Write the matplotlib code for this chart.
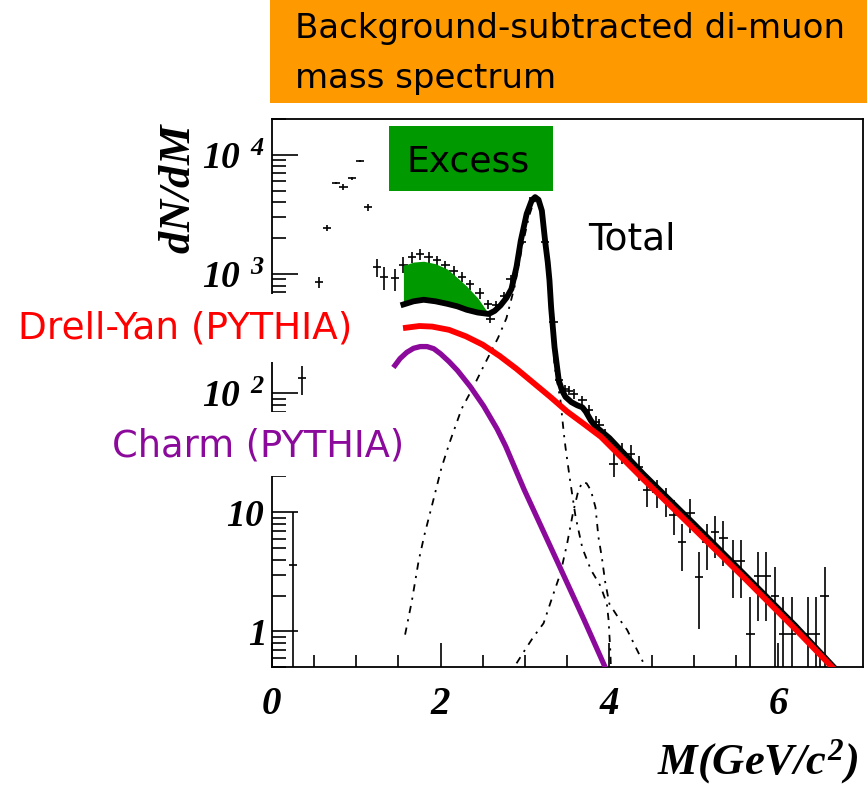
import numpy as np
import matplotlib
matplotlib.use('Agg')
import matplotlib.pyplot as plt
from matplotlib.patches import Rectangle
from matplotlib.ticker import FixedLocator, LogLocator, NullFormatter

# di-muon data: bin centre (GeV/c^2), dN/dM, error
data_m = [0.25, 0.356, 0.56, 0.652, 0.763, 0.849, 0.949, 1.047, 1.139, 1.246, 1.332, 1.463,
          1.56, 1.66, 1.759, 1.858, 1.957, 2.056, 2.154, 2.254, 2.352, 2.463, 2.56, 2.59,
          2.66, 2.75, 2.83, 2.966, 3.10, 3.24, 3.34, 3.40, 3.47, 3.52, 3.58, 3.68, 3.76,
          3.84, 3.88, 3.95, 4.05, 4.15, 4.25, 4.35, 4.45, 4.56, 4.67, 4.76, 4.86, 4.96,
          5.06, 5.15, 5.25, 5.35, 5.46, 5.56, 5.67, 5.76, 5.86, 5.96, 6.06, 6.16, 6.35,
          6.45, 6.55]
data_y = [3.6, 133, 853, 2450, 5770, 5340, 6360, 8940, 3630, 1140, 940, 917,
          1200, 1380, 1460, 1380, 1300, 1180, 1070, 940, 817, 690, 560, 421,
          545, 660, 912, 1850, 4320, 1850, 394, 128, 108, 105, 99, 87, 72,
          57, 54, 44, 25.6, 32, 31, 24, 15.3, 14.8, 12.6, 9.5, 5.6, 9.8,
          2.84, 5.65, 6.77, 6.03, 3.89, 3.89, 0.96, 2.93, 2.93, 1.98, 0.96, 0.96, 0.96,
          0.96, 1.98]
data_err = [6.4, 36, 85, 150, 100, 300, 150, 200, 250, 200, 200, 190,
            180, 150, 150, 140, 130, 110, 100, 90, 80, 70, 50, 35,
            45, 50, 60, 100, 150, 100, 30, 10, 9, 9, 9, 8, 8,
            7, 7, 6.5, 6, 6.5, 6, 5.7, 4.3, 4, 3.5, 3.1, 2.4, 3.1,
            1.8, 2.4, 2.6, 2.5, 2.0, 2.0, 1.0, 1.7, 1.7, 1.5, 1.0, 1.0, 1.0,
            1.0, 1.5]
bin_half = 0.05

# total fit
total_m = [1.56, 1.68, 1.80, 1.94, 2.08, 2.20, 2.31, 2.44, 2.57, 2.64, 2.71, 2.78, 2.84,
           2.90, 2.95, 3.02, 3.08, 3.12, 3.16, 3.20, 3.24, 3.27, 3.29, 3.31, 3.35, 3.40,
           3.44, 3.48, 3.55, 3.62, 3.68, 3.72, 3.78, 3.83, 4.0, 4.4, 5.0, 5.6, 6.2, 6.66]
total_y = [555, 590, 608, 590, 562, 535, 501, 475, 462, 490, 545, 630, 750,
           1150, 1900, 3200, 4150, 4420, 4200, 3400, 1850, 1250, 884, 520, 243, 128,
           105, 93, 84, 79, 76, 70, 59, 53, 42, 21, 8.0, 3.0, 1.12, 0.5]

# excess above the total, same mass points as the start of the total curve
excess_m = [1.56, 1.68, 1.80, 1.94, 2.08, 2.20, 2.31, 2.44, 2.57]
excess_top = [1180, 1260, 1280, 1220, 1100, 930, 790, 630, 462]

# Drell-Yan (PYTHIA)
dy_m = [1.59, 1.75, 1.9, 2.1, 2.3, 2.5, 2.7, 2.9, 3.1, 3.3, 3.5, 3.7, 3.9, 4.4, 5.0, 5.6, 6.2, 6.64]
dy_y = [354, 366, 362, 340, 300, 255, 205, 160, 122, 93, 70, 55, 43, 19, 7.3, 2.8, 1.05, 0.5]

# open charm (PYTHIA)
charm_m = [1.46, 1.52, 1.60, 1.68, 1.76, 1.84, 1.92, 2.00, 2.10, 2.20, 2.35, 2.51, 2.67,
           2.77, 2.99, 3.38, 3.70, 3.95]
charm_y = [171, 195, 220, 238, 246, 246, 236, 214, 184, 155, 114, 78, 50,
           36, 15.5, 3.9, 1.25, 0.5]

# J/psi and psi' shapes
jpsi_m = [1.58, 1.66, 1.74, 1.81, 1.91, 2.01, 2.11, 2.25, 2.40, 2.52, 2.68, 2.78, 2.88, 2.97,
          3.05, 3.10, 3.14, 3.18, 3.22, 3.26, 3.30, 3.35, 3.42, 3.46, 3.48, 3.53, 3.60, 3.68,
          3.78, 3.895, 3.97, 3.99, 4.01, 4.02]
jpsi_y = [0.94, 1.8, 3.9, 6.5, 12.3, 23.5, 39, 74, 117, 174, 290, 425, 800, 1750,
          3100, 3950, 4250, 3900, 2700, 1500, 700, 170, 87, 46, 35, 19.4, 9.1, 5.0,
          3.3, 2.4, 1.7, 1.25, 0.7, 0.45]
psi2_m = [2.90, 3.00, 3.10, 3.22, 3.34, 3.42, 3.50, 3.57, 3.63, 3.68, 3.73, 3.78, 3.835,
          3.87, 3.91, 3.95, 4.0, 4.11, 4.21, 4.31, 4.40]
psi2_y = [0.54, 0.70, 0.90, 1.17, 2.1, 3.07, 5.5, 10, 15, 18, 17.5, 15.3, 11,
          6.2, 4.2, 2.6, 1.7, 1.29, 1.03, 0.74, 0.55]

x_major = [0, 2, 4, 6]
y_major = [1, 10, 100, 1000, 10000]
y_labels = [r'$1$', r'$10$', r'$10^{\ \,2}$', r'$10^{\ \,3}$', r'$10^{\ \,4}$']

plt.rcParams['mathtext.fontset'] = 'custom'
plt.rcParams['mathtext.rm'] = 'Liberation Serif:bold:italic'
plt.rcParams['mathtext.it'] = 'Liberation Serif:bold:italic'
plt.rcParams['mathtext.bf'] = 'Liberation Serif:bold:italic'
plt.rcParams['font.family'] = 'DejaVu Sans'

W, H = 867, 786
fig = plt.figure(figsize=(W / 100, H / 100), dpi=100)


def fx(px):
    return px / W


def fy(py):
    return 1 - py / H


ax = fig.add_axes([fx(271.7), fy(667.3), (862.7 - 271.7) / W, (667.3 - 119) / H])
ax.set_yscale('log')
ax.set_xlim(0, 7)
ax.set_ylim(0.5, 2e4)

ax.errorbar(data_m, data_y, yerr=data_err, xerr=bin_half, fmt='none',
            ecolor='black', elinewidth=1.2, capsize=0, zorder=2)
ax.fill_between(excess_m, total_y[:len(excess_m)], excess_top, color='#009900', lw=0, zorder=3)

dashdot = (0, (4, 3.5, 1.2, 3.5))
ax.plot(jpsi_m, jpsi_y, color='black', lw=1.3, ls=dashdot, zorder=2)
ax.plot(psi2_m, psi2_y, color='black', lw=1.3, ls=dashdot, zorder=2)
ax.plot(charm_m, charm_y, color='#8B0A9B', lw=3.8, zorder=4, solid_joinstyle='round')
ax.plot(total_m, total_y, color='black', lw=4.2, zorder=5, solid_joinstyle='round')
ax.plot(dy_m, dy_y, color='#FF0000', lw=4.2, zorder=6, solid_joinstyle='round')

for side in ['top', 'right', 'bottom', 'left']:
    ax.spines[side].set_linewidth(1.3)

ax.xaxis.set_major_locator(FixedLocator(x_major))
ax.xaxis.set_minor_locator(FixedLocator(np.arange(0.5, 7, 0.5)))
ax.set_xticklabels([r'$%d$' % v for v in x_major])
ax.yaxis.set_major_locator(FixedLocator(y_major))
ax.yaxis.set_minor_locator(LogLocator(base=10, subs=np.arange(2, 10)))
ax.yaxis.set_minor_formatter(NullFormatter())
ax.set_yticklabels(y_labels)

ax.tick_params(axis='x', which='major', direction='in', length=17, width=1.2,
               labelsize=28, pad=12, top=False)
ax.tick_params(axis='x', which='minor', direction='in', length=8.5, width=1.2, top=False)
ax.tick_params(axis='y', which='major', direction='in', length=18.5, width=1.2,
               labelsize=27, pad=5, right=False)
ax.tick_params(axis='y', which='minor', direction='in', length=10, width=1.2, right=False)

# axis titles
fig.text(fx(178), fy(188), r'$dN/dM$', rotation=90, fontsize=32, ha='center', va='center')
fig.text(fx(858), fy(762), r'$M(GeV/c^{2})$', fontsize=32, ha='right', va='center')

# header box
fig.add_artist(Rectangle((fx(269.7), fy(103)), (W - 269.7) / W, 103 / H,
                         transform=fig.transFigure, facecolor='#FF9900', edgecolor='none'))
fig.text(fx(295), fy(38.3), 'Background-subtracted di-muon', fontsize=24.5, va='baseline')
fig.text(fx(295), fy(88.3), 'mass spectrum', fontsize=24.5, va='baseline')

# excess label
fig.add_artist(Rectangle((fx(389), fy(191)), (553 - 389) / W, (191 - 126) / H,
                         transform=fig.transFigure, facecolor='#009900', edgecolor='none'))
fig.text(fx(468), fy(171.7), 'Excess', fontsize=26, ha='center', va='baseline')

fig.text(fx(588), fy(250), 'Total', fontsize=27, va='baseline')

# component labels sit on white patches over the axis
fig.add_artist(Rectangle((0, fy(362)), 389 / W, (362 - 294) / H,
                         transform=fig.transFigure, facecolor='white', edgecolor='none'))
fig.text(fx(18), fy(338), 'Drell-Yan (PYTHIA)', fontsize=27, color='#FF0000', va='baseline')
fig.add_artist(Rectangle((fx(100), fy(476)), (410 - 100) / W, (476 - 412) / H,
                         transform=fig.transFigure, facecolor='white', edgecolor='none'))
fig.text(fx(112), fy(457), 'Charm (PYTHIA)', fontsize=26.5, color='#8B0A9B', va='baseline')

fig.savefig('out.png', dpi=100)
